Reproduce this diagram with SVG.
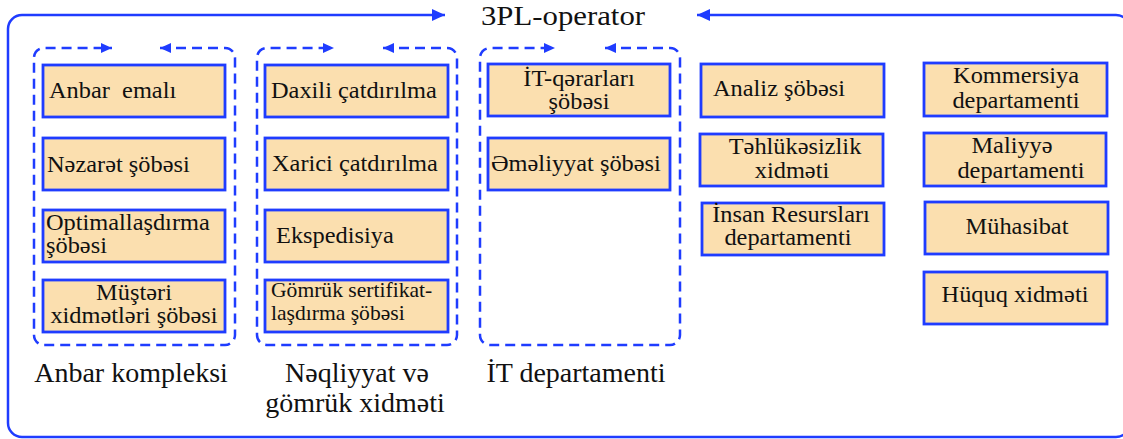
<svg xmlns="http://www.w3.org/2000/svg" width="1123" height="439" viewBox="0 0 1123 439">
<style>
.frame{fill:none;stroke:#1f3cff;stroke-width:2.5}
.dash{fill:none;stroke:#1f3cff;stroke-width:2.5;stroke-dasharray:10 6}
.box{fill:#fbdfaf;stroke:#1f3cff;stroke-width:2.8}
.t{font-family:"Liberation Serif","Times New Roman","DejaVu Serif",serif;font-size:23px;fill:#111}
.ts{font-family:"Liberation Serif","Times New Roman","DejaVu Serif",serif;font-size:20px;fill:#111}
.lbl{font-family:"Liberation Serif","Times New Roman","DejaVu Serif",serif;font-size:28px;fill:#111;text-anchor:middle}
.m{text-anchor:middle}
</style>
<defs>
<marker id="ah" markerUnits="userSpaceOnUse" markerWidth="11" markerHeight="10" refX="11" refY="5" orient="auto-start-reverse">
<path d="M0,0 L11,5 L0,10 z" fill="#1f3cff"/>
</marker>
<marker id="ahb" markerUnits="userSpaceOnUse" markerWidth="13" markerHeight="12" refX="13" refY="6" orient="auto-start-reverse">
<path d="M0,0 L13,6 L0,12 z" fill="#1f3cff"/>
</marker>
</defs>
<g id="connectors">
<path class="frame" d="M445,15 H22 A14 14 0 0 0 8,29 V423 A14 14 0 0 0 22,437 H1116 A14 14 0 0 0 1130,423 V29 A14 14 0 0 0 1116,15 H697" marker-start="url(#ahb)" marker-end="url(#ahb)"/>
<path class="dash" d="M160,48 H225 A10 10 0 0 1 235,58 V335 A10 10 0 0 1 225,345 H44 A10 10 0 0 1 34,335 V58 A10 10 0 0 1 44,48 H112" marker-start="url(#ah)" marker-end="url(#ah)"/>
<path class="dash" d="M383,48 H447 A10 10 0 0 1 457,58 V335 A10 10 0 0 1 447,345 H267 A10 10 0 0 1 257,335 V58 A10 10 0 0 1 267,48 H334" marker-start="url(#ah)" marker-end="url(#ah)"/>
<path class="dash" d="M605,48 H670 A10 10 0 0 1 680,58 V335 A10 10 0 0 1 670,345 H490 A10 10 0 0 1 480,335 V58 A10 10 0 0 1 490,48 H555" marker-start="url(#ah)" marker-end="url(#ah)"/>
</g>
<g id="title">
<text class="lbl" transform="translate(563,25) scale(1.14,1)" style="font-size:27px">3PL-operator</text>
</g>
<g id="group-anbar">
<text class="lbl" x="131" y="382">Anbar kompleksi</text>
</g>
<g id="group-neqliyyat">
<text class="lbl" x="357" y="382">Nəqliyyat və</text>
<text class="lbl" x="355" y="412">gömrük xidməti</text>
</g>
<g id="group-it">
<text class="lbl" x="576" y="382">İT departamenti</text>
</g>
<g id="anbar-emali">
<rect class="box" x="43" y="65" width="182" height="52"/>
<text class="t" transform="translate(49,98) scale(1.06,1)" style="white-space:pre">Anbar  emalı</text>
</g>
<g id="nezaret">
<rect class="box" x="43" y="138" width="182" height="52"/>
<text class="t" transform="translate(47,172) scale(1.06,1)">Nəzarət şöbəsi</text>
</g>
<g id="optimal">
<rect class="box" x="43" y="210" width="182" height="52"/>
<text class="t" transform="translate(46,230) scale(1.06,1)">Optimallaşdırma</text>
<text class="t" transform="translate(46,253) scale(1.06,1)">şöbəsi</text>
</g>
<g id="musteri">
<rect class="box" x="43" y="280" width="182" height="52"/>
<text class="t m" transform="translate(134,300) scale(1.06,1)">Müştəri</text>
<text class="t m" transform="translate(134,323) scale(1.06,1)">xidmətləri şöbəsi</text>
</g>
<g id="daxili">
<rect class="box" x="265" y="65" width="183" height="52"/>
<text class="t" transform="translate(271,98) scale(1.06,1)">Daxili çatdırılma</text>
</g>
<g id="xarici">
<rect class="box" x="265" y="138" width="183" height="52"/>
<text class="t" transform="translate(272,171) scale(1.06,1)">Xarici çatdırılma</text>
</g>
<g id="ekspedisiya">
<rect class="box" x="265" y="210" width="183" height="52"/>
<text class="t" transform="translate(276,243) scale(1.06,1)">Ekspedisiya</text>
</g>
<g id="gomruk">
<rect class="box" x="265" y="280" width="183" height="52"/>
<text class="ts" transform="translate(271,297) scale(1.08,1)">Gömrük sertifikat-</text>
<text class="ts" transform="translate(271,320) scale(1.08,1)">laşdırma şöbəsi</text>
</g>
<g id="it-qerar">
<rect class="box" x="488" y="64" width="182" height="52"/>
<text class="t m" transform="translate(579,86) scale(1.06,1)">İT-qərarları</text>
<text class="t m" transform="translate(579,109) scale(1.06,1)">şöbəsi</text>
</g>
<g id="emeliyyat">
<rect class="box" x="488" y="138" width="182" height="52"/>
<text class="t" transform="translate(491,171) scale(1.06,1)">Əməliyyat şöbəsi</text>
</g>
<g id="analiz">
<rect class="box" x="701" y="64" width="183" height="53"/>
<text class="t" transform="translate(713,96) scale(1.06,1)">Analiz şöbəsi</text>
</g>
<g id="tehlukesizlik">
<rect class="box" x="700" y="134" width="183" height="52"/>
<text class="t m" transform="translate(795,154) scale(1.06,1)">Təhlükəsizlik</text>
<text class="t m" transform="translate(792,178) scale(1.06,1)">xidməti</text>
</g>
<g id="insan">
<rect class="box" x="702" y="203" width="182" height="52"/>
<text class="t m" transform="translate(791,222) scale(1.06,1)">İnsan Resursları</text>
<text class="t m" transform="translate(788,245) scale(1.06,1)">departamenti</text>
</g>
<g id="kommersiya">
<rect class="box" x="924" y="63" width="183" height="53"/>
<text class="t m" transform="translate(1016,83) scale(1.06,1)">Kommersiya</text>
<text class="t m" transform="translate(1016,108) scale(1.06,1)">departamenti</text>
</g>
<g id="maliyye">
<rect class="box" x="924" y="133" width="182" height="53"/>
<text class="t m" transform="translate(1012,153) scale(1.06,1)">Maliyyə</text>
<text class="t m" transform="translate(1021,178) scale(1.06,1)">departamenti</text>
</g>
<g id="muhasibat">
<rect class="box" x="925" y="202" width="183" height="52"/>
<text class="t m" transform="translate(1017,234) scale(1.06,1)">Mühasibat</text>
</g>
<g id="huquq">
<rect class="box" x="924" y="272" width="183" height="52"/>
<text class="t m" transform="translate(1015,302) scale(1.06,1)">Hüquq xidməti</text>
</g>
</svg>
